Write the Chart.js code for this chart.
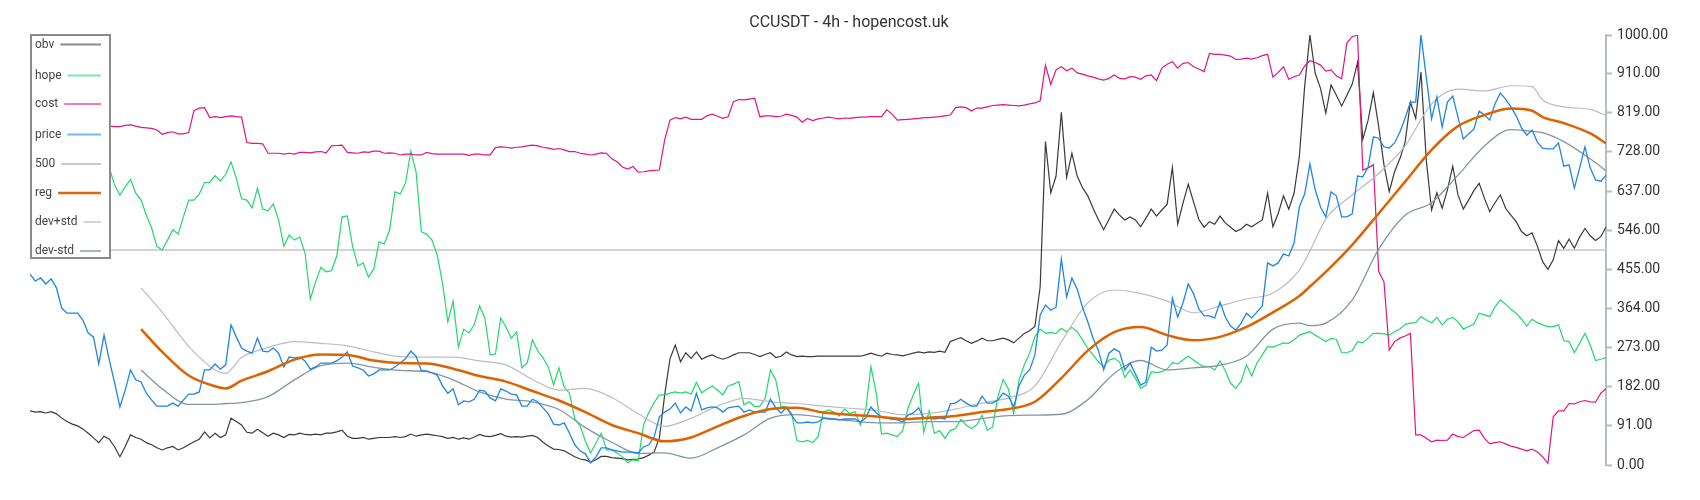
<!DOCTYPE html>
<html>
<head>
<meta charset="utf-8">
<title>CCUSDT - 4h - hopencost.uk</title>
<script src="https://cdn.jsdelivr.net/npm/chart.js@4.4.1/dist/chart.umd.min.js"></script>
<style>
  html, body { margin: 0; padding: 0; background: #fff; }
  #wrap { width: 1700px; height: 500px; }
</style>
</head>
<body>
<div id="wrap"><canvas id="chart" width="1700" height="500"></canvas></div>
<script>
// ===== data =====
const chartTitle = 'CCUSDT - 4h - hopencost.uk';
const yTicks = [0, 91, 182, 273, 364, 455, 546, 637, 728, 819, 910, 1000];

const obv = [
  126,123,124,121,124,119,109,101,95,91, 84,74,63,52,67,60,42,19,43,70,
  64,60,52,47,40,35,40,43,35,40, 47,54,60,77,63,74,64,70,109,101,
  93,76,74,83,75,67,74,70,64,71, 70,74,71,70,72,70,74,74,77,81,
  67,62,62,64,60,62,64,64,64,66, 64,66,72,67,70,72,70,68,66,62,
  64,60,63,60,65,71,67,66,69,73, 67,65,66,65,67,69,64,53,44,37,
  36,33,26,19,14,12,7,12,20,20, 17,16,15,12,13,14,17,23,30,63,
  163,247,279,240,261,248,263,246,252,256, 250,246,250,256,261,261,261,257,252,257,
  261,250,253,263,256,252,253,252,252,253, 253,253,253,253,253,253,253,253,256,260,
  256,253,260,257,256,254,257,260,263,261, 263,262,265,262,287,292,296,289,283,288,
  295,289,289,292,295,291,284,295,306,312, 322,415,752,633,672,820,669,725,672,645,
  626,597,571,547,571,595,581,570,577,570, 554,574,595,579,593,606,692,560,609,653,
  612,571,553,566,560,579,563,553,543,549, 560,554,562,570,632,554,585,626,595,632,
  717,880,1000,911,876,818,884,860,835,860, 886,936,757,802,866,787,698,636,682,712,
  751,844,806,914,709,593,633,597,640,695, 628,595,616,638,655,620,589,610,628,597,
  581,566,543,533,540,509,473,455,477,522, 504,525,504,530,550,533,522,531,554
];

const hope = [
  709,714,721,733,737,728,719,709,714,721, 714,705,698,691,686,691,651,628,647,664,
  632,616,581,551,508,500,523,547,537,577, 616,616,630,657,657,673,660,676,705,667,
  619,616,598,644,595,591,607,570,509,535, 523,530,493,386,426,460,449,452,486,577,
  579,508,463,470,437,456,519,514,547,635, 630,656,730,681,542,537,523,488,423,333,
  381,274,316,307,326,370,342,256,258,342, 321,295,309,226,237,291,265,249,228,186,
  226,181,167,107,91,56,28,51,74,35, 35,28,19,5,12,9,93,122,145,163,
  163,167,170,167,170,165,192,168,176,184, 174,163,184,188,194,140,147,136,137,155,
  221,198,136,136,120,57,54,57,52,66, 123,128,123,114,130,120,124,93,128,229,
  167,72,74,70,66,80,132,163,190,76, 126,74,80,62,80,85,106,93,85,93,
  116,81,88,159,199,176,120,198,233,260, 298,316,306,308,306,318,310,320,310,291,
  271,256,240,229,244,248,240,204,221,202, 178,186,217,215,217,223,238,235,244,253,
  244,235,229,229,221,242,219,190,178,195, 233,207,238,256,275,274,279,284,283,291,
  302,306,310,302,295,287,295,292,261,261, 266,287,284,295,306,306,305,302,310,316,
  327,330,331,345,337,331,343,326,339,343, 333,316,322,328,353,349,345,368,384,374,
  362,353,339,323,339,331,326,322,322,326, 289,287,261,283,306,279,243,246,250
];

const cost = [
  791,791,788,788,791,793,791,788,786,788, 791,788,786,788,788,788,787,787,790,791,
  788,785,784,783,779,769,773,775,770,770, 773,824,830,831,808,810,808,810,812,810,
  809,750,748,748,747,725,725,725,723,725, 723,727,727,726,728,729,726,742,743,744,
  727,726,725,728,727,730,730,725,726,725, 721,723,723,721,721,727,724,723,723,723,
  723,723,723,720,723,723,721,721,738,740, 739,737,739,740,742,744,742,739,737,734,
  736,733,729,729,725,723,721,723,726,725, 712,705,693,688,694,681,682,684,685,686,
  756,802,808,805,809,804,804,804,812,816, 811,806,810,845,850,849,851,853,810,812,
  812,810,811,816,813,809,797,806,801,805, 807,809,807,805,807,806,808,809,809,810,
  810,810,826,816,802,803,804,805,806,808, 808,809,810,812,814,831,833,831,823,830,
  830,833,836,837,838,837,836,835,837,840, 842,847,930,885,919,926,917,923,912,909,
  905,902,898,895,899,907,899,898,903,902, 897,905,907,894,923,932,938,923,934,936,
  926,921,915,957,955,955,953,951,943,944, 946,944,947,952,955,902,913,926,897,903,
  907,928,940,936,930,916,919,905,898,982, 996,1000,686,691,698,450,426,267,287,295,
  300,306,70,70,62,54,58,57,58,72, 66,64,72,80,81,62,49,52,54,49,
  44,41,37,33,37,30,19,4,112,126, 126,143,142,147,150,147,146,167,178
];

const price = [
  444,428,435,421,433,412,365,353,353,353, 337,307,298,235,302,244,191,135,174,221,
  198,193,167,151,137,137,137,144,137,151, 165,165,170,221,221,235,223,233,326,298,
  272,265,260,295,265,263,272,260,228,251, 249,251,242,223,228,237,237,237,242,251,
  263,230,226,221,207,212,221,221,221,228, 237,247,265,253,219,219,214,209,184,167,
  177,140,149,147,153,174,172,156,149,177, 172,165,163,137,137,153,147,133,119,95,
  93,98,74,47,33,26,5,19,40,40, 35,33,30,30,30,28,42,47,65,112,
  123,130,144,121,135,126,167,128,133,135, 133,123,133,135,137,123,128,123,123,123,
  153,133,121,133,116,98,98,100,98,100, 109,107,107,105,107,107,107,100,109,135,
  121,112,109,107,105,100,116,121,133,109, 109,107,109,107,142,144,153,144,137,137,
  160,144,144,151,167,160,135,184,209,221, 256,349,372,360,367,479,391,435,409,367,
  333,295,267,221,260,270,263,221,237,212, 186,193,274,265,267,279,388,344,377,421,
  398,363,347,347,342,379,344,323,314,330, 353,342,356,370,470,463,470,491,486,516,
  600,630,700,640,600,577,635,626,577,577, 584,672,670,693,763,760,740,737,749,774,
  807,844,844,1000,902,805,856,786,844,858, 809,758,770,781,823,814,802,840,865,851,
  833,812,784,767,779,751,737,735,735,749, 695,698,644,691,740,691,663,660,674
];

const level500 = 500;

// regression band, read at these bar numbers
const bandIdx = [
  21,25,30,35,37,40,45,50,55,60,65,70,75,80,85,90,95,100,105,110,
  115,120,125,130,135,140,145,150,155,160,165,170,175,180,185,190,195,200,205,210,
  215,220,225,230,235,240,242,245,250,255,260,265,270,275,280,284,286,290,295,298
];
const reg = [
  316,263,208,183,178,196,218,245,257,256,243,237,236,224,207,194,172,150,123,93,
  74,55,64,90,114,130,133,122,117,113,107,110,114,123,130,147,202,266,309,321,
  302,290,298,321,355,393,415,449,512,585,659,733,788,814,829,824,809,795,771,748
];
const devPlus = [
  412,355,276,221,213,250,273,287,283,277,263,252,251,251,242,233,199,174,178,157,
  119,90,109,137,155,147,143,137,132,127,117,120,130,144,156,184,286,377,407,399,
  381,354,370,386,400,453,498,572,628,678,742,840,874,870,882,880,849,833,827,813
];
const devMinus = [
  221,177,141,141,143,145,159,198,231,237,227,220,217,198,170,153,147,129,87,53,
  27,28,16,40,70,109,117,110,103,98,98,101,101,108,115,116,118,152,213,243,
  221,226,232,253,316,330,324,330,384,502,581,610,674,742,780,776,773,752,712,684
];

const lastBar = price.length - 1;
const toPoints = arr => arr.map((v, i) => ({ x: i, y: v }));
const toBand = arr => arr.map((v, i) => ({ x: bandIdx[i], y: v }));

// ===== plugins =====
const titlePlugin = {
  id: 'titleText',
  afterDraw(chart) {
    const ctx = chart.ctx;
    ctx.save();
    ctx.font = '16px Roboto';
    ctx.fillStyle = '#333';
    ctx.textAlign = 'center';
    ctx.textBaseline = 'alphabetic';
    ctx.fillText(chartTitle, 849, 26.5);
    ctx.restore();
  }
};

const boxLegend = {
  id: 'boxLegend',
  afterDraw(chart) {
    const ctx = chart.ctx;
    const rows = [44.5, 75.5, 104, 134.5, 164, 193, 222, 251];
    ctx.save();
    ctx.fillStyle = '#fff';
    ctx.fillRect(30, 34, 81, 225);
    ctx.strokeStyle = '#8a8a8a';
    ctx.lineWidth = 2;
    ctx.strokeRect(31, 35, 79, 223);
    ctx.font = '12px Roboto';
    ctx.textBaseline = 'middle';
    chart.data.datasets.forEach((ds, i) => {
      const y = rows[i];
      ctx.fillStyle = '#444';
      ctx.fillText(ds.label, 35, y);
      const start = 35 + ctx.measureText(ds.label).width + 6;
      ctx.strokeStyle = ds.legendColor;
      ctx.lineWidth = ds.label === 'reg' ? 2.4 : 2;
      ctx.beginPath();
      ctx.moveTo(start, y);
      ctx.lineTo(101, y);
      ctx.stroke();
    });
    ctx.restore();
  }
};

// ===== chart =====
Chart.defaults.font.family = 'Roboto';

const ctx = document.getElementById('chart').getContext('2d');
new Chart(ctx, {
  type: 'line',
  data: {
    datasets: [
      { label: 'obv', data: toPoints(obv), borderColor: '#3a3a3a', legendColor: '#8c8c8c', borderWidth: 1.2, order: 6 },
      { label: 'hope', data: toPoints(hope), borderColor: '#1fd96b', legendColor: '#80e8ac', borderWidth: 1.2, order: 5 },
      { label: 'cost', data: toPoints(cost), borderColor: '#e2167c', legendColor: '#f07ab4', borderWidth: 1.2, order: 4 },
      { label: 'price', data: toPoints(price), borderColor: '#1e86e4', legendColor: '#7ab6ee', borderWidth: 1.3, order: 2 },
      { label: '500', data: [{ x: 0, y: level500 }, { x: lastBar, y: level500 }], borderColor: '#c6c6c6', legendColor: '#c8c8c8', borderWidth: 1.5, order: 7 },
      { label: 'reg', data: toBand(reg), borderColor: '#dd6200', legendColor: '#dc6a0c', borderWidth: 2.5, cubicInterpolationMode: 'monotone', order: 1 },
      { label: 'dev+std', data: toBand(devPlus), borderColor: '#b9bdc1', legendColor: '#d0d4d8', borderWidth: 1.2, cubicInterpolationMode: 'monotone', order: 3 },
      { label: 'dev-std', data: toBand(devMinus), borderColor: '#8795a0', legendColor: '#a9b3bb', borderWidth: 1.3, cubicInterpolationMode: 'monotone', order: 3 }
    ]
  },
  options: {
    responsive: false,
    animation: false,
    events: [],
    elements: { point: { radius: 0 }, line: { tension: 0, fill: false } },
    layout: { padding: { left: 30, right: 27, top: 35, bottom: 35 } },
    plugins: { legend: { display: false }, tooltip: { enabled: false }, title: { display: false } },
    scales: {
      x: { type: 'linear', min: 0, max: lastBar, display: false },
      y: {
        position: 'right',
        min: 0,
        max: 1000,
        afterBuildTicks: scale => { scale.ticks = yTicks.map(v => ({ value: v })); },
        ticks: { callback: v => Number(v).toFixed(2), color: '#333', font: { size: 14 }, padding: 5 },
        grid: { drawOnChartArea: false, drawTicks: true, tickLength: 6, color: '#b4bec6', tickWidth: 2 },
        border: { color: '#b4bec6', width: 2 }
      }
    }
  },
  plugins: [titlePlugin, boxLegend]
});
</script>
</body>
</html>
